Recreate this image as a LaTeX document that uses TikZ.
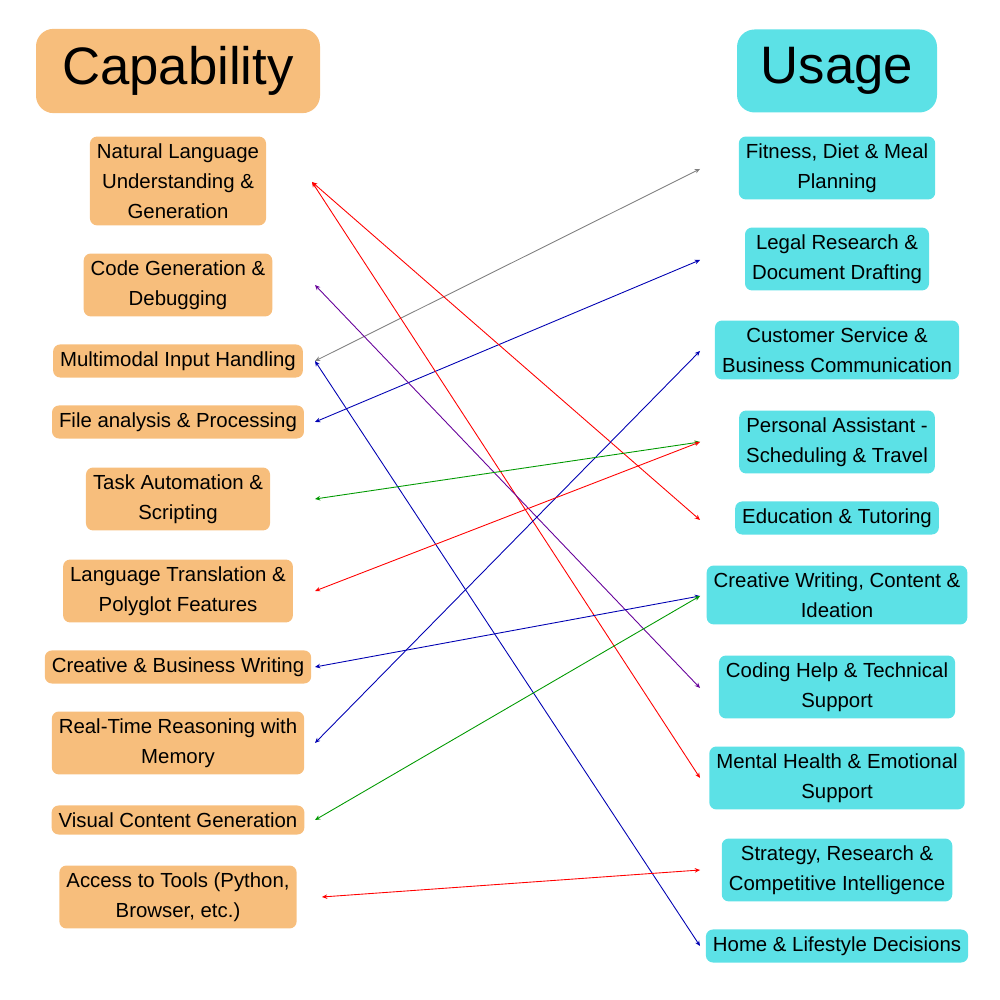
\documentclass[tikz,border=0pt]{standalone}
\usepackage{fontspec}
\setmainfont{Liberation Sans}
\usetikzlibrary{arrows.meta}
\definecolor{capc}{HTML}{F7BE7C}
\definecolor{usec}{HTML}{5CE1E6}
\tikzset{
  capbox/.style={fill=capc, rounded corners=2pt, align=center, inner sep=2pt, font=\fontsize{5.8}{8.5}\selectfont},
  usebox/.style={fill=usec, rounded corners=2pt, align=center, inner sep=2pt, font=\fontsize{5.8}{8.5}\selectfont},
  headbox/.style={rounded corners=5pt, inner xsep=6pt, inner ysep=5pt, minimum height=0.83cm, font=\fontsize{15}{18}\selectfont},
  link/.style={{Stealth[length=1.5pt,width=1.3pt]}-{Stealth[length=1.5pt,width=1.3pt]}, line width=0.25pt}
}
\begin{document}
\begin{tikzpicture}
\useasboundingbox (0,0) rectangle (10,10);
% headers
\node[headbox, fill=capc, minimum width=2.84cm] (caphead) at (1.78,9.29) {Capability};
\node[headbox, fill=usec, minimum width=2.0cm] (usehead) at (8.37,9.29) {Usage};
% capability column
\node[capbox] (nlu) at (1.78,8.19) {Natural Language\\Understanding \&\\Generation};
\node[capbox] (codegen) at (1.78,7.15) {Code Generation \&\\Debugging};
\node[capbox] (multi) at (1.78,6.39) {Multimodal Input Handling};
\node[capbox] (file) at (1.78,5.78) {File analysis \& Processing};
\node[capbox] (task) at (1.78,5.01) {Task Automation \&\\Scripting};
\node[capbox] (lang) at (1.78,4.09) {Language Translation \&\\Polyglot Features};
\node[capbox] (write) at (1.78,3.33) {Creative \& Business Writing};
\node[capbox] (reason) at (1.78,2.57) {Real-Time Reasoning with\\Memory};
\node[capbox] (visual) at (1.78,1.80) {Visual Content Generation};
\node[capbox] (tools) at (1.78,1.03) {Access to Tools (Python,\\Browser, etc.)};
% usage column
\node[usebox] (fitness) at (8.37,8.32) {Fitness, Diet \& Meal\\Planning};
\node[usebox] (legal) at (8.37,7.41) {Legal Research \&\\Document Drafting};
\node[usebox] (service) at (8.37,6.50) {Customer Service \&\\Business Communication};
\node[usebox] (assist) at (8.37,5.58) {Personal Assistant -\\Scheduling \& Travel};
\node[usebox] (edu) at (8.37,4.82) {Education \& Tutoring};
\node[usebox] (creative) at (8.37,4.05) {Creative Writing, Content \&\\Ideation};
\node[usebox] (coding) at (8.37,3.13) {Coding Help \& Technical\\Support};
\node[usebox] (mental) at (8.37,2.22) {Mental Health \& Emotional\\Support};
\node[usebox] (strategy) at (8.37,1.30) {Strategy, Research \&\\Competitive Intelligence};
\node[usebox] (home) at (8.37,0.54) {Home \& Lifestyle Decisions};
% link ends
\coordinate (nluR) at (3.12,8.18);
\coordinate (codegenR) at (3.15,7.15);
\coordinate (multiR) at (3.15,6.39);
\coordinate (fileR) at (3.15,5.78);
\coordinate (taskR) at (3.15,5.01);
\coordinate (langR) at (3.15,4.09);
\coordinate (writeR) at (3.15,3.33);
\coordinate (reasonR) at (3.15,2.57);
\coordinate (visualR) at (3.15,1.80);
\coordinate (toolsR) at (3.22,1.03);
\coordinate (fitnessL) at (7.00,8.31);
\coordinate (legalL) at (7.00,7.40);
\coordinate (serviceL) at (7.00,6.49);
\coordinate (assistL) at (7.00,5.58);
\coordinate (eduL) at (7.00,4.80);
\coordinate (creativeL) at (7.00,4.04);
\coordinate (codingL) at (7.00,3.12);
\coordinate (mentalL) at (7.00,2.22);
\coordinate (strategyL) at (7.00,1.30);
\coordinate (homeL) at (7.00,0.54);
% links
\draw[link, gray] (multiR) -- (fitnessL);
\draw[link, blue!70!black] (fileR) -- (legalL);
\draw[link, red] (nluR) -- (eduL);
\draw[link, red] (nluR) -- (mentalL);
\draw[link, violet!80!blue] (codegenR) -- (codingL);
\draw[link, blue!70!black] (multiR) -- (homeL);
\draw[link, blue!70!black] (reasonR) -- (serviceL);
\draw[link, green!60!black] (taskR) -- (assistL);
\draw[link, red] (langR) -- (assistL);
\draw[link, blue!70!black] (writeR) -- (creativeL);
\draw[link, green!60!black] (visualR) -- (creativeL);
\draw[link, red] (toolsR) -- (strategyL);
\end{tikzpicture}
\end{document}
